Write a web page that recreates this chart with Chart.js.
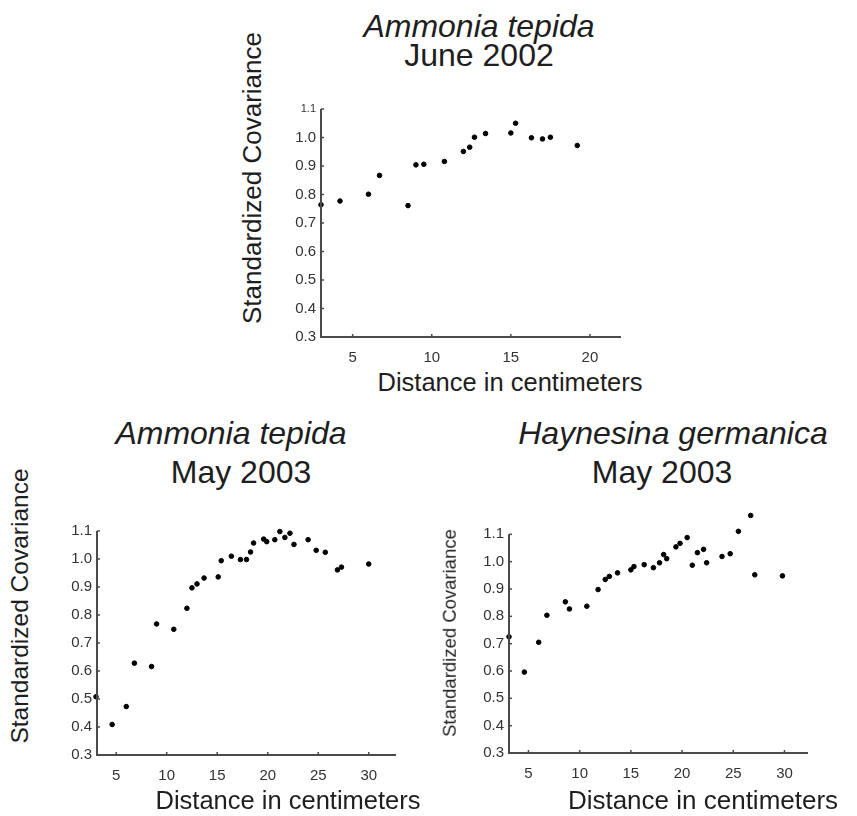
<!DOCTYPE html>
<html>
<head>
<meta charset="utf-8">
<script src="https://cdn.jsdelivr.net/npm/chart.js@4/dist/chart.umd.min.js"></script>
<style>
  body { margin: 0; background: #fff; }
  #page { position: relative; width: 857px; height: 816px; overflow: hidden; font-family: 'Liberation Sans', Arial, sans-serif; color: #1e1e1e; }
  canvas { position: absolute; }
  .txt { position: absolute; white-space: nowrap; line-height: 0; transform: translateX(-50%); }
  .vtxt { position: absolute; white-space: nowrap; line-height: 1; transform: translate(-50%, -50%) rotate(-90deg); }
</style>
</head>
<body>
<div id="page">
  <canvas id="june2002" width="360" height="270" style="left:270px;top:95px"></canvas>
  <canvas id="may2003At" width="360" height="280" style="left:46px;top:510px"></canvas>
  <canvas id="may2003Hg" width="360" height="292" style="left:458px;top:493px"></canvas>
</div>
<script>
// tick labels
const xTicksShort = [5, 10, 15, 20];
const xTicksLong = [5, 10, 15, 20, 25, 30];
const yTicks = [0.3, 0.4, 0.5, 0.6, 0.7, 0.8, 0.9, 1.0, 1.1];

// Ammonia tepida, June 2002
const distJune2002 = [3.0, 4.2, 6.0, 6.7, 8.5, 9.0, 9.5, 10.8, 12.0, 12.4, 12.7, 13.4, 15.0, 15.3, 16.3, 17.0, 17.5, 19.2];
const covJune2002 = [0.764, 0.777, 0.801, 0.867, 0.761, 0.904, 0.906, 0.916, 0.951, 0.966, 1.001, 1.014, 1.016, 1.050, 0.999, 0.995, 1.001, 0.972];

// Ammonia tepida, May 2003
const distMay2003At = [3.0, 4.6, 6.0, 6.8, 8.5, 9.0, 10.7, 12.0, 12.5, 13.0, 13.7, 15.1, 15.4, 16.4, 17.3, 17.9, 18.3, 18.6, 19.6, 19.9, 20.7, 21.2, 21.7, 22.2, 22.6, 24.0, 24.8, 25.7, 26.9, 27.3, 30.0];
const covMay2003At = [0.508, 0.409, 0.473, 0.628, 0.616, 0.768, 0.749, 0.824, 0.897, 0.911, 0.932, 0.936, 0.994, 1.010, 0.998, 0.998, 1.025, 1.057, 1.071, 1.062, 1.069, 1.098, 1.077, 1.092, 1.052, 1.069, 1.031, 1.024, 0.961, 0.971, 0.982];

// Haynesina germanica, May 2003
const distMay2003Hg = [3.1, 4.6, 6.0, 6.8, 8.6, 9.0, 10.7, 11.8, 12.5, 12.9, 13.7, 15.0, 15.3, 16.3, 17.2, 17.8, 18.2, 18.5, 19.4, 19.8, 20.5, 21.0, 21.5, 22.1, 22.4, 23.9, 24.7, 25.5, 26.7, 27.1, 29.8];
const covMay2003Hg = [0.725, 0.596, 0.705, 0.804, 0.853, 0.827, 0.837, 0.898, 0.935, 0.946, 0.959, 0.970, 0.982, 0.989, 0.978, 0.996, 1.026, 1.011, 1.054, 1.067, 1.088, 0.987, 1.033, 1.045, 0.996, 1.019, 1.029, 1.111, 1.169, 0.952, 0.948];

const AXIS = '#4a4a4a';
const LABEL = '#333333';
const FONT = "'Liberation Sans', Arial, sans-serif";

// y axis line (0.3 to 1.1 only) and short tick marks pointing into the plot
const axisMarks = {
    id: 'axisMarks',
    afterDraw(chart) {
        const { ctx, chartArea, scales } = chart;
        ctx.save();
        ctx.strokeStyle = AXIS;
        ctx.lineWidth = 2;
        ctx.beginPath();
        ctx.moveTo(chartArea.left, chartArea.bottom);
        ctx.lineTo(chartArea.left, scales.y.getPixelForValue(yTicks[yTicks.length - 1]));
        ctx.stroke();
        ctx.lineWidth = 1.5;
        scales.x.ticks.forEach(t => {
            const px = scales.x.getPixelForValue(t.value);
            ctx.beginPath();
            ctx.moveTo(px, chartArea.bottom);
            ctx.lineTo(px, chartArea.bottom - 3);
            ctx.stroke();
        });
        scales.y.ticks.forEach(t => {
            const py = scales.y.getPixelForValue(t.value);
            ctx.beginPath();
            ctx.moveTo(chartArea.left, py);
            ctx.lineTo(chartArea.left + 3, py);
            ctx.stroke();
        });
        ctx.restore();
    },
};

function makeChart(id, xs, ys, cfg) {
    const points = xs.map((x, i) => ({ x, y: ys[i] }));
    return new Chart(document.getElementById(id), {
        type: 'scatter',
        data: {
            datasets: [{
                data: points,
                backgroundColor: '#000',
                borderColor: '#000',
                pointRadius: 2.3,
                pointHoverRadius: 2.3,
                clip: false,
            }],
        },
        options: {
            responsive: false,
            animation: false,
            layout: { padding: cfg.padding },
            plugins: { legend: { display: false }, tooltip: { enabled: false } },
            scales: {
                x: {
                    type: 'linear',
                    min: cfg.xMin,
                    max: cfg.xMax,
                    afterBuildTicks(scale) { scale.ticks = cfg.xTicks.map(v => ({ value: v })); },
                    afterFit(scale) { scale.height = cfg.xHeight; },
                    grid: { display: false, drawTicks: false },
                    border: { display: true, color: AXIS, width: 2 },
                    ticks: {
                        padding: 12,
                        color: LABEL,
                        maxRotation: 0,
                        font: { family: FONT, size: 15 },
                        callback: v => String(v),
                    },
                },
                y: {
                    type: 'linear',
                    min: 0.3,
                    max: cfg.yMax,
                    afterBuildTicks(scale) { scale.ticks = yTicks.map(v => ({ value: v })); },
                    afterFit(scale) { scale.width = cfg.yWidth; },
                    grid: { display: false, drawTicks: false },
                    border: { display: false },
                    ticks: {
                        padding: 5,
                        color: LABEL,
                        font: ctx => ({ family: FONT, size: (cfg.smallTop && ctx.tick && ctx.tick.value > 1.05) ? 11 : 15 }),
                        callback: v => Number(v).toFixed(1),
                    },
                },
            },
        },
        plugins: [axisMarks],
    });
}

makeChart('june2002', distJune2002, covJune2002, {
    xMin: 3.0, xMax: 21.9, xTicks: xTicksShort, yMax: 1.1,
    padding: { left: 0, right: 10, top: 14, bottom: 0 },
    yWidth: 51, xHeight: 28, smallTop: true,
});
makeChart('may2003At', distMay2003At, covMay2003At, {
    xMin: 3.1, xMax: 32.6, xTicks: xTicksLong, yMax: 1.1,
    padding: { left: 0, right: 11, top: 21, bottom: 0 },
    yWidth: 51, xHeight: 35,
});
makeChart('may2003Hg', distMay2003Hg, covMay2003Hg, {
    xMin: 3.1, xMax: 32.2, xTicks: xTicksLong, yMax: 1.2,
    padding: { left: 0, right: 11, top: 9.4, bottom: 0 },
    yWidth: 51, xHeight: 32,
});

// titles and axis titles
const page = document.getElementById('page');
function addText(text, x, baseline, size, italic) {
    const el = document.createElement('div');
    el.className = 'txt';
    el.textContent = text;
    el.style.fontSize = size + 'px';
    el.style.fontStyle = italic ? 'italic' : 'normal';
    el.style.left = x + 'px';
    el.style.top = (baseline - 0.3465 * size) + 'px';
    page.appendChild(el);
}
function addVText(text, cx, cy, size) {
    const el = document.createElement('div');
    el.className = 'vtxt';
    el.textContent = text;
    el.style.fontSize = size + 'px';
    el.style.left = cx + 'px';
    el.style.top = cy + 'px';
    page.appendChild(el);
}

addText('Ammonia tepida', 479, 37, 32, true);
addText('June 2002', 479, 66.5, 32, false);
addText('Ammonia tepida', 231, 444, 32, true);
addText('May 2003', 241, 483, 32, false);
addText('Haynesina germanica', 673, 444, 32, true);
addText('May 2003', 662, 483, 32, false);

addText('Distance in centimeters', 510, 390.5, 25.5, false);
addText('Distance in centimeters', 288, 809, 25.5, false);
addText('Distance in centimeters', 703, 809, 26, false);

addVText('Standardized Covariance', 252, 178, 26);
addVText('Standardized Covariance', 20, 606, 24.5);
addVText('Standardized Covariance', 450, 633, 18.5);
</script>
</body>
</html>
